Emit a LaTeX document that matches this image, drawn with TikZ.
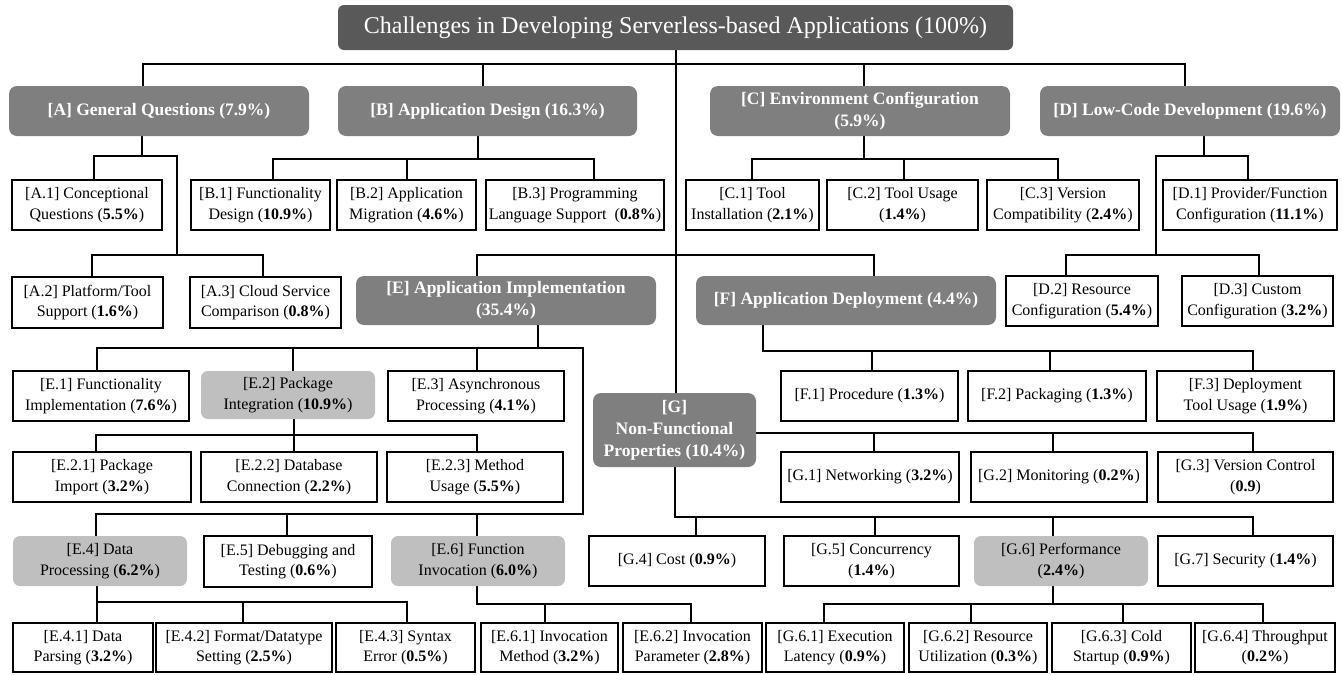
\documentclass[tikz,border=0pt]{standalone}
\usepackage{fontspec}
\setmainfont{Liberation Serif}
\usetikzlibrary{backgrounds}
\definecolor{dgray}{HTML}{595959}
\definecolor{mgray}{HTML}{7F7F7F}
\definecolor{lgray}{HTML}{BFBFBF}
\newcommand\mkbox[7]{%
  \pgfmathsetmacro\bxc{(#3+#5)/2}\pgfmathsetmacro\byc{(#4+#6)/2}%
  \pgfmathsetmacro\bxw{#5-#3}\pgfmathsetmacro\byh{#6-#4}%
  \node[#1,minimum width=\bxw pt,minimum height=\byh pt] (#2) at (\bxc,\byc) {#7};}
\newcommand\drop[3]{\coordinate (dp) at (#1,#2); \draw[conn] (dp) -- (dp |- #3.north);}
\newcommand\rise[3]{\coordinate (rs) at (#1,#2); \draw[conn] (rs |- #3.south) -- (rs);}
\newcommand\spine[3]{\draw[conn] (#1,#3) -- (#2,#3);}
\begin{document}
\begin{tikzpicture}[x=1pt,y=-1pt,
  base/.style={align=center,inner sep=0pt,outer sep=0pt},
  wbox/.style={base,draw=black,line width=2.6pt,fill=white,font=\fontsize{16}{20.5}\selectfont},
  lbox/.style={base,fill=lgray,rounded corners=7pt,font=\fontsize{16}{20.5}\selectfont},
  gbox/.style={base,fill=mgray,rounded corners=8pt,text=white,font=\bfseries\fontsize{17.5}{22}\selectfont},
  rootbox/.style={base,fill=dgray,rounded corners=6pt,text=white,font=\fontsize{24}{28}\selectfont},
  conn/.style={draw=black,line width=2.6pt,line cap=rect}]
\useasboundingbox (0,0) rectangle (1342,675);
% root and groups
\mkbox{rootbox}{root}{338}{5}{1013}{50}{Challenges in Developing Serverless-based Applications (100\%)}
\mkbox{gbox}{A}{9}{86}{309}{136}{[A] General Questions (7.9\%)}
\mkbox{gbox}{B}{338}{86}{637}{136}{[B] Application Design (16.3\%)}
\mkbox{gbox}{C}{710}{86}{1010}{136}{[C] Environment Configuration\\(5.9\%)}
\mkbox{gbox}{D}{1040}{86}{1340}{136}{[D] Low-Code Development (19.6\%)}
% A
\mkbox{wbox}{A1}{12}{180}{162}{230}{[A.1] Conceptional\\Questions (\textbf{5.5\%})}
\mkbox{wbox}{A2}{12}{277}{163}{328}{[A.2] Platform/Tool\\Support (\textbf{1.6\%})}
\mkbox{wbox}{A3}{190}{277}{341}{328}{[A.3] Cloud Service\\Comparison (\textbf{0.8\%})}
% B
\mkbox{wbox}{B1}{191}{180}{330}{230}{[B.1] Functionality\\Design (\textbf{10.9\%})}
\mkbox{wbox}{B2}{337}{180}{476}{230}{[B.2] Application\\Migration (\textbf{4.6\%})}
\mkbox{wbox}{B3}{486}{180}{664}{230}{[B.3] Programming\\Language Support\ \ (\textbf{0.8\%})}
% C
\mkbox{wbox}{C1}{686}{180}{819}{230}{[C.1] Tool\\Installation (\textbf{2.1\%})}
\mkbox{wbox}{C2}{827}{180}{978}{230}{[C.2] Tool Usage\\(\textbf{1.4\%})}
\mkbox{wbox}{C3}{987}{180}{1139}{230}{[C.3] Version\\Compatibility (\textbf{2.4\%})}
% D
\mkbox{wbox}{D1}{1163}{180}{1337}{230}{[D.1] Provider/Function\\Configuration (\textbf{11.1\%})}
\mkbox{wbox}{D2}{1006}{276}{1158}{326}{[D.2] Resource\\Configuration (\textbf{5.4\%})}
\mkbox{wbox}{D3}{1182}{276}{1333}{326}{[D.3] Custom\\Configuration (\textbf{3.2\%})}
% E, F
\mkbox{gbox}{E}{356}{276}{656}{325}{[E] Application Implementation\\(35.4\%)}
\mkbox{gbox}{F}{696}{276}{996}{325}{[F] Application Deployment (4.4\%)}
\mkbox{wbox}{E1}{13}{371}{189}{421}{[E.1] Functionality\\Implementation (\textbf{7.6\%})}
\mkbox{lbox}{E2}{201}{371}{375}{419}{[E.2] Package\\Integration (\textbf{10.9\%})}
\mkbox{wbox}{E3}{388}{371}{564}{421}{[E.3] Asynchronous\\Processing (\textbf{4.1\%})}
\mkbox{wbox}{E21}{13}{452}{191}{502}{[E.2.1] Package\\Import (\textbf{3.2\%})}
\mkbox{wbox}{E22}{201}{452}{377}{502}{[E.2.2] Database\\Connection (\textbf{2.2\%})}
\mkbox{wbox}{E23}{387}{452}{563}{502}{[E.2.3] Method\\Usage (\textbf{5.5\%})}
\mkbox{lbox}{E4}{13}{536}{187}{586}{[E.4] Data\\Processing (\textbf{6.2\%})}
\mkbox{wbox}{E5}{204}{536}{372}{587}{[E.5] Debugging and\\Testing (\textbf{0.6\%})}
\mkbox{lbox}{E6}{391}{536}{565}{586}{[E.6] Function\\Invocation (\textbf{6.0\%})}
\mkbox{wbox}{E41}{13}{623}{153}{672}{[E.4.1] Data\\Parsing (\textbf{3.2\%})}
\mkbox{wbox}{E42}{156}{623}{332}{672}{[E.4.2] Format/Datatype\\Setting (\textbf{2.5\%})}
\mkbox{wbox}{E43}{336}{623}{475}{672}{[E.4.3] Syntax\\Error (\textbf{0.5\%})}
\mkbox{wbox}{E61}{481}{623}{618}{672}{[E.6.1] Invocation\\Method (\textbf{3.2\%})}
\mkbox{wbox}{E62}{623}{623}{762}{672}{[E.6.2] Invocation\\Parameter (\textbf{2.8\%})}
\mkbox{wbox}{F1}{781}{371}{958}{421}{[F.1] Procedure (\textbf{1.3\%})}
\mkbox{wbox}{F2}{968}{371}{1146}{421}{[F.2] Packaging (\textbf{1.3\%})}
\mkbox{wbox}{F3}{1157}{371}{1334}{421}{[F.3] Deployment\\Tool Usage (\textbf{1.9\%})}
% G
\mkbox{gbox}{G}{593}{393}{756}{467}{[G]\\Non-Functional\\Properties (10.4\%)}
\mkbox{wbox}{G1}{781}{452}{959}{502}{[G.1] Networking (\textbf{3.2\%})}
\mkbox{wbox}{G2}{971}{452}{1147}{502}{[G.2] Monitoring (\textbf{0.2\%})}
\mkbox{wbox}{G3}{1158}{452}{1333}{502}{[G.3] Version Control\\(\textbf{0.9})}
\mkbox{wbox}{G4}{589}{536}{765}{586}{[G.4] Cost (\textbf{0.9\%})}
\mkbox{wbox}{G5}{784}{536}{959}{586}{[G.5] Concurrency\\(\textbf{1.4\%})}
\mkbox{lbox}{G6}{974}{536}{1148}{586}{[G.6] Performance\\(\textbf{2.4\%})}
\mkbox{wbox}{G7}{1158}{536}{1333}{586}{[G.7] Security (\textbf{1.4\%})}
\mkbox{wbox}{G61}{766}{623}{904}{672}{[G.6.1] Execution\\Latency (\textbf{0.9\%})}
\mkbox{wbox}{G62}{909}{623}{1047}{672}{[G.6.2] Resource\\Utilization (\textbf{0.3\%})}
\mkbox{wbox}{G63}{1052}{623}{1191}{672}{[G.6.3] Cold\\Startup (\textbf{0.9\%})}
\mkbox{wbox}{G64}{1195}{623}{1335}{672}{[G.6.4] Throughput\\(\textbf{0.2\%})}
% connectors
\begin{pgfonlayer}{background}
\coordinate (tr) at (676,64);
\draw[conn] (tr |- root.south) -- (tr |- G.north);
\spine{143}{1185}{64}
\drop{143}{64}{A}\drop{483}{64}{B}\drop{864}{64}{C}\drop{1185}{64}{D}
% A
\rise{142}{156}{A}\spine{94}{177}{156}\drop{94}{156}{A1}
\draw[conn] (177,156) -- (177,255);
\spine{92}{263}{255}\drop{92}{255}{A2}\drop{263}{255}{A3}
% B
\rise{478}{159}{B}\spine{273}{594}{159}
\drop{273}{159}{B1}\drop{407}{159}{B2}\drop{594}{159}{B3}
% C
\rise{864}{159}{C}\spine{752}{1058}{159}
\drop{752}{159}{C1}\drop{904}{159}{C2}\drop{1058}{159}{C3}
% D
\rise{1204}{156}{D}\spine{1156}{1248}{156}\drop{1248}{156}{D1}
\draw[conn] (1156,156) -- (1156,255);
\spine{1066}{1259}{255}\drop{1066}{255}{D2}\drop{1259}{255}{D3}
% E, F
\spine{477}{874}{255}\drop{477}{255}{E}\drop{874}{255}{F}
\rise{538}{348}{E}\spine{97}{583}{348}
\drop{97}{348}{E1}\drop{293}{348}{E2}\drop{477}{348}{E3}
\draw[conn] (583,348) -- (583,514);
\spine{96}{583}{514}
\drop{96}{514}{E4}\drop{287}{514}{E5}\drop{477}{514}{E6}
\rise{294}{435}{E2}\spine{96}{477}{435}
\drop{96}{435}{E21}\drop{294}{435}{E22}\drop{477}{435}{E23}
\rise{97}{602}{E4}\spine{97}{407}{602}
\drop{97}{602}{E41}\drop{243}{602}{E42}\drop{407}{602}{E43}
\rise{477}{604}{E6}\spine{477}{691}{604}
\drop{545}{604}{E61}\drop{691}{604}{E62}
\rise{763}{351}{F}\spine{763}{1253}{351}
\drop{872}{351}{F1}\drop{1050}{351}{F2}\drop{1253}{351}{F3}
% G
\coordinate (gy) at (0,433);
\draw[conn] (G.east |- gy) -- (1253,433);
\drop{874}{433}{G1}\drop{1053}{433}{G2}\drop{1253}{433}{G3}
\rise{675}{517}{G}\spine{675}{1253}{517}
\drop{696}{517}{G4}\drop{875}{517}{G5}\drop{1053}{517}{G6}\drop{1253}{517}{G7}
\rise{1053}{604}{G6}\spine{824}{1263}{604}
\drop{824}{604}{G61}\drop{971}{604}{G62}\drop{1123}{604}{G63}\drop{1263}{604}{G64}
\end{pgfonlayer}
\end{tikzpicture}
\end{document}
